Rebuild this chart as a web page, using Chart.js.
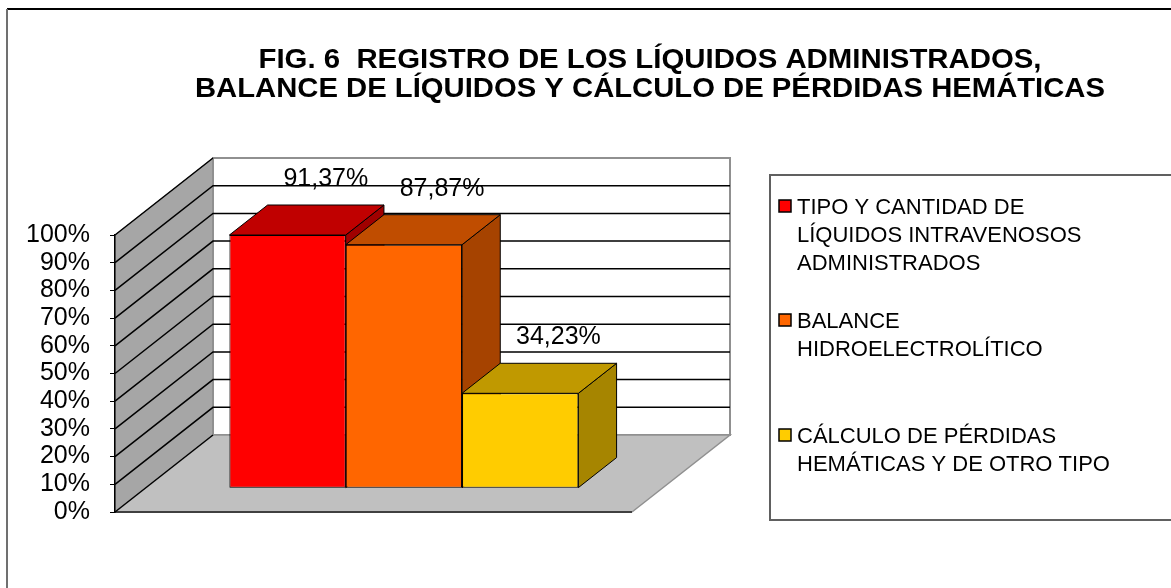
<!DOCTYPE html>
<html>
<head>
<meta charset="utf-8">
<script src="https://cdn.jsdelivr.net/npm/chart.js"></script>
<style>
  html, body { margin: 0; padding: 0; background: #fff; }
  #wrap { position: relative; width: 1171px; height: 588px; }
</style>
</head>
<body>
<div id="wrap"><canvas id="myChart" width="1171" height="588"></canvas></div>
<script>
// Data
const titleLines = ['FIG. 6  REGISTRO DE LOS LÍQUIDOS ADMINISTRADOS,',
                    'BALANCE DE LÍQUIDOS Y CÁLCULO DE PÉRDIDAS HEMÁTICAS'];
const seriesNames = [
  ['TIPO Y CANTIDAD DE', 'LÍQUIDOS INTRAVENOSOS', 'ADMINISTRADOS'],
  ['BALANCE', 'HIDROELECTROLÍTICO'],
  ['CÁLCULO DE PÉRDIDAS', 'HEMÁTICAS Y DE OTRO TIPO']
];
const seriesValues = [91.37, 87.87, 34.23];
const yTicks = [0, 10, 20, 30, 40, 50, 60, 70, 80, 90, 100];

// Colours: front, top, side
const frontColors = ['#FF0000', '#FF6600', '#FFCC00'];
const topColors = ['#C00000', '#C04D00', '#C09900'];
const sideColors = ['#A00000', '#A64300', '#A68500'];

// 3D geometry of the plot box (walls depth) and bars
const DEPTH = { dx: 98, dy: -77 };
const BAR_FRONT = 0.31, BAR_BACK = 0.70;

function fmt(v) { return v.toFixed(2).replace('.', ',') + '%'; }

function poly(ctx, pts, fill, stroke, lw) {
  ctx.beginPath();
  ctx.moveTo(pts[0][0], pts[0][1]);
  for (let i = 1; i < pts.length; i++) ctx.lineTo(pts[i][0], pts[i][1]);
  ctx.closePath();
  if (fill) { ctx.fillStyle = fill; ctx.fill(); }
  if (stroke) { ctx.strokeStyle = stroke; ctx.lineWidth = lw || 1; ctx.stroke(); }
}

// text squeezed/stretched to a target width
function fitText(ctx, text, cx, y, w) {
  const m = ctx.measureText(text).width;
  ctx.save();
  ctx.translate(cx, y);
  ctx.scale(w / m, 1);
  ctx.textAlign = 'center';
  ctx.fillText(text, 0, 0);
  ctx.restore();
}

const box3d = {
  id: 'box3d',
  beforeDraw(chart) {
    const ctx = chart.ctx;
    const a = chart.chartArea;
    const y = chart.scales.y;
    ctx.save();
    // outer frame
    ctx.strokeStyle = '#000';
    ctx.lineWidth = 2;
    ctx.beginPath(); ctx.moveTo(7, 9); ctx.lineTo(1171, 9); ctx.stroke();
    ctx.strokeStyle = '#707070';
    ctx.beginPath(); ctx.moveTo(7, 9); ctx.lineTo(7, 588); ctx.stroke();

    // title
    ctx.fillStyle = '#000';
    ctx.font = 'bold 27px "Liberation Sans", Arial, sans-serif';
    ctx.textBaseline = 'alphabetic';
    fitText(ctx, titleLines[0], 650, 68, 783);
    fitText(ctx, titleLines[1], 650, 97, 910);

    const L = a.left, R = a.right, T = a.top, B = a.bottom;
    const dx = DEPTH.dx, dy = DEPTH.dy;
    // side wall
    poly(ctx, [[L, B], [L, T], [L + dx, T + dy], [L + dx, B + dy]], '#A6A6A6', '#808080', 1);
    // back wall
    poly(ctx, [[L + dx, T + dy], [R + dx, T + dy], [R + dx, B + dy], [L + dx, B + dy]], '#FFFFFF', '#909090', 2);
    // floor
    poly(ctx, [[L, B], [R, B], [R + dx, B + dy], [L + dx, B + dy]], '#C0C0C0', null);
    ctx.strokeStyle = '#909090'; ctx.lineWidth = 1.5;
    ctx.beginPath(); ctx.moveTo(L + dx, B + dy); ctx.lineTo(R + dx, B + dy); ctx.lineTo(R, B); ctx.stroke();
    ctx.strokeStyle = '#404040'; ctx.lineWidth = 2;
    ctx.beginPath(); ctx.moveTo(L, B); ctx.lineTo(R, B); ctx.stroke();

    // gridlines on both walls
    ctx.strokeStyle = '#000';
    ctx.lineWidth = 1.5;
    yTicks.forEach(t => {
      const py = y.getPixelForValue(t);
      ctx.beginPath();
      ctx.moveTo(L, py);
      ctx.lineTo(L + dx, py + dy);
      if (t > 0 && t < 100) ctx.lineTo(R + dx, py + dy);
      ctx.stroke();
    });
    ctx.restore();
  },
  beforeDatasetsDraw(chart) {
    const ctx = chart.ctx;
    ctx.save();
    ctx.translate(DEPTH.dx * BAR_FRONT, DEPTH.dy * BAR_FRONT);
    // side and top faces, left to right; the library then draws the fronts over them
    const bx = DEPTH.dx * (BAR_BACK - BAR_FRONT);
    const by = DEPTH.dy * (BAR_BACK - BAR_FRONT);
    chart.data.datasets.forEach((ds, i) => {
      chart.getDatasetMeta(i).data.forEach(el => {
        const p = el.getProps(['x', 'y', 'base', 'width'], true);
        const l = p.x - p.width / 2, r = p.x + p.width / 2;
        ctx.save();
        ctx.lineJoin = 'round';
        poly(ctx, [[r, p.y], [r + bx, p.y + by], [r + bx, p.base + by], [r, p.base]], sideColors[i], '#000', 1);
        poly(ctx, [[l, p.y], [l + bx, p.y + by], [r + bx, p.y + by], [r, p.y]], topColors[i], '#000', 1);
        ctx.restore();
      });
    });
  },
  afterDatasetsDraw(chart) {
    const ctx = chart.ctx;
    ctx.restore();
    // value labels above each bar
    const ox = DEPTH.dx * BAR_FRONT, oy = DEPTH.dy * BAR_FRONT;
    const bx = DEPTH.dx * (BAR_BACK - BAR_FRONT), by = DEPTH.dy * (BAR_BACK - BAR_FRONT);
    ctx.save();
    ctx.fillStyle = '#000';
    ctx.font = '25px "Liberation Sans", Arial, sans-serif';
    ctx.textAlign = 'center';
    ctx.textBaseline = 'middle';
    chart.data.datasets.forEach((ds, i) => {
      const el = chart.getDatasetMeta(i).data[0];
      ctx.fillText(fmt(ds.data[0]), el.x + ox + bx, el.y + oy + by - 26);
    });

    // legend
    ctx.strokeStyle = '#606060';
    ctx.lineWidth = 2;
    ctx.strokeRect(770, 175, 420, 345);
    ctx.font = '22px "Liberation Sans", Arial, sans-serif';
    ctx.textAlign = 'left';
    ctx.textBaseline = 'alphabetic';
    const starts = [214, 328, 443];
    seriesNames.forEach((lines, i) => {
      ctx.fillStyle = frontColors[i];
      ctx.fillRect(779, starts[i] - 14, 12, 12);
      ctx.strokeStyle = '#000'; ctx.lineWidth = 1.5;
      ctx.strokeRect(779, starts[i] - 14, 12, 12);
      ctx.fillStyle = '#000';
      lines.forEach((t, k) => ctx.fillText(t, 797, starts[i] + k * 28));
    });
    ctx.restore();
  }
};

const data = {
  labels: [''],
  datasets: seriesNames.map((name, i) => ({
    label: name.join(' '),
    data: [seriesValues[i]],
    backgroundColor: frontColors[i],
    borderColor: '#000',
    borderWidth: 1,
    borderSkipped: false,
    clip: false,
    barPercentage: 1,
    categoryPercentage: 0.675
  }))
};

const config = {
  type: 'bar',
  data: data,
  options: {
    responsive: false,
    animation: false,
    events: [],
    layout: { padding: { left: 0, right: 539, top: 235, bottom: 76 } },
    plugins: {
      legend: { display: false },
      title: { display: false },
      tooltip: { enabled: false }
    },
    scales: {
      x: {
        display: false
      },
      y: {
        min: 0,
        max: 100,
        afterFit(scale) { scale.width = 115; },
        afterBuildTicks(scale) { scale.ticks = yTicks.map(v => ({ value: v })); },
        ticks: {
          color: '#000',
          padding: 20,
          autoSkip: false,
          font: { family: '"Liberation Sans", Arial, sans-serif', size: 25 },
          callback: v => v + '%'
        },
        grid: { drawOnChartArea: false, color: '#000', tickLength: 5, lineWidth: 1 },
        border: { display: true, color: '#000', width: 1.5 }
      }
    }
  },
  plugins: [box3d]
};

const myChart = new Chart(document.getElementById('myChart'), config);
</script>
</body>
</html>
